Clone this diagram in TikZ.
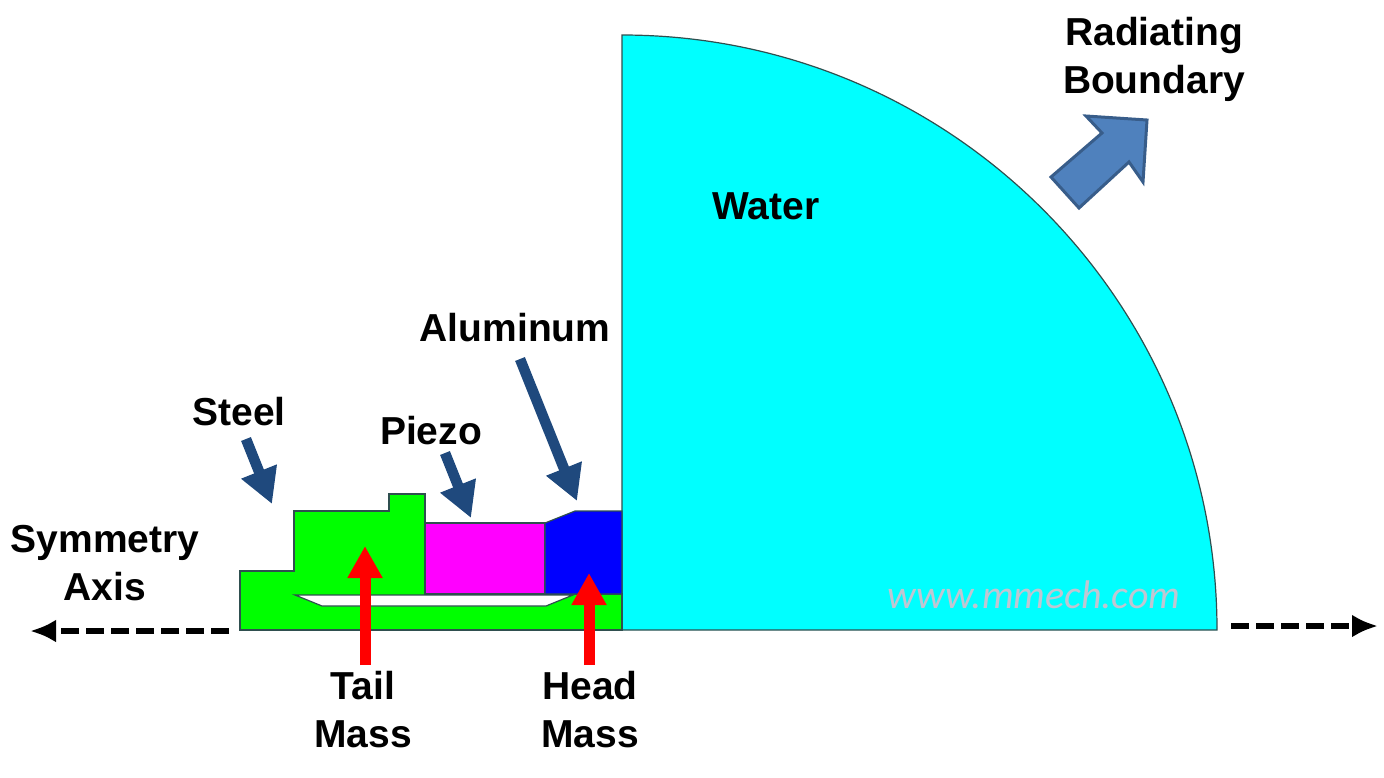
\documentclass[tikz,border=0pt]{standalone}
\usepackage{fontspec}
\setmainfont{Liberation Sans}
\newfontfamily\markfont{Carlito}
\usetikzlibrary{arrows.meta}
\definecolor{Navy}{HTML}{1F497D}
\definecolor{Steelblue}{HTML}{4F81BD}
\definecolor{Rim}{HTML}{385D8A}
\definecolor{Outline}{HTML}{2F4F4F}
\definecolor{Mark}{HTML}{BFC6D2}
\definecolor{Aqua}{HTML}{00FFFF}
\definecolor{Pink}{HTML}{FF00FF}
\definecolor{Lime}{HTML}{00FF00}
\definecolor{Pure}{HTML}{0000FF}
\tikzset{
 part/.style={draw=Outline,line width=1.2pt,line join=miter},
 lbl/.style={font=\fontsize{39}{48}\selectfont\bfseries,align=center,text=black,inner sep=0pt},
 navyarr/.style={-{Triangle[length=35pt,width=36pt]},line width=10.5pt,draw=Navy},
 redarr/.style={-{Triangle[length=32pt,width=33pt]},line width=11pt,draw=red},
 axisarr/.style={-{Latex[length=26pt,width=23pt]},line width=6pt,draw=black,dash pattern=on 18pt off 7pt}
}
\begin{document}
\begin{tikzpicture}[x=1pt,y=-1pt]
\useasboundingbox (0,0) rectangle (1384,777);
% water
\draw[part,fill=Aqua] (622,630)--(622,35) arc[start angle=90,end angle=0,radius=595pt]--cycle;
% tail mass and housing
\draw[part,fill=Lime] (240,630)--(240,571)--(294,571)--(294,511)--(389,511)--(389,494)--(425,494)--(425,594)--(622,594)--(622,630)--cycle;
\draw[part,fill=white] (295,595)--(322,606)--(546,606)--(573,595)--cycle;
\draw[part,fill=Pink] (425,523) rectangle (545,594);
\draw[part,fill=Pure] (545,594)--(545,523)--(575,511)--(622,511)--(622,594)--cycle;
% labels
\node[lbl] (water) at (766,206) {Water};
\node[lbl] (boundary) at (1154,59) {Radiating\\Boundary};
\node[lbl] (aluminum) at (515,328) {Aluminum};
\node[lbl] (steel) at (239,412) {Steel};
\node[lbl] (piezo) at (431,431) {Piezo};
\node[lbl] (symmetry) at (105,563) {Symmetry\\Axis};
\node[lbl] (tail) at (363,710) {Tail\\Mass};
\node[lbl] (head) at (590,710) {Head\\Mass};
\node[font=\markfont\itshape\fontsize{40}{40}\selectfont,text=Mark,inner sep=0pt] (mark) at (1034,595) {www.mmech.com};
% pointers
\foreach \name/\xa/\ya/\xb/\yb in {st/246/439/272/504,pz/445/453/471/518,al/520/359/577/501} {
 \coordinate (\name a) at (\xa,\ya);
 \coordinate (\name b) at (\xb,\yb);
 \draw[navyarr] (\name a)--(\name b);
}
\foreach \name/\xa/\ya/\xb/\yb in {tl/365/665/365/546,hd/589/665/589/573} {
 \coordinate (\name a) at (\xa,\ya);
 \coordinate (\name b) at (\xb,\yb);
 \draw[redarr] (\name a)--(\name b);
}
\coordinate (axl) at (229,631);
\coordinate (axle) at (30,631);
\coordinate (axr) at (1231,626);
\coordinate (axre) at (1378,626);
\draw[axisarr] (axl)--(axle);
\draw[axisarr] (axr)--(axre);
% radiating arrow
\draw[draw=Rim,fill=Steelblue,line width=3pt,line join=miter] (1051,177)--(1079,208)--(1129,162)--(1143,182)--(1147,120)--(1086,116)--(1102,133)--cycle;
\end{tikzpicture}
\end{document}
